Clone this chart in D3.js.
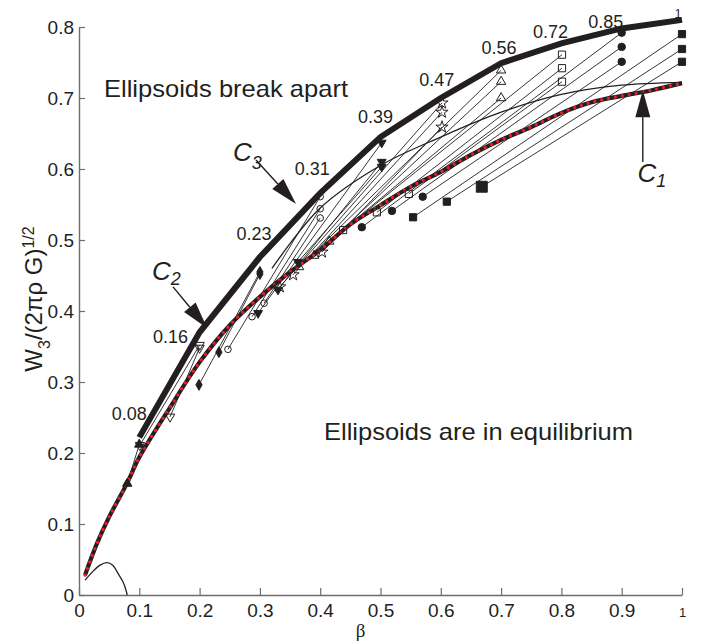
<!DOCTYPE html>
<html>
<head>
<meta charset="utf-8">
<script src="https://cdn.jsdelivr.net/npm/d3@7"></script>
<style>
    body { margin: 0; background: #fff; }
    #chart { width: 703px; height: 644px; }
    text { font-family: "Liberation Sans", Arial, Helvetica, sans-serif; fill: #231f20; }
</style>
</head>
<body>
<div id="chart"></div>
<script>
// Curve C1 (lower limit, drawn thick black with red dots)
const c1Beta = [0.01, 0.03, 0.05, 0.08, 0.1, 0.15, 0.2, 0.25, 0.3, 0.35, 0.4, 0.45, 0.5, 0.55, 0.6, 0.65, 0.7, 0.75, 0.8, 0.85, 0.9, 0.95, 1.0];
const c1W = [0.028, 0.073, 0.11, 0.158, 0.194, 0.263, 0.328, 0.38, 0.42, 0.455, 0.486, 0.522, 0.549, 0.575, 0.596, 0.62, 0.641, 0.659, 0.679, 0.694, 0.703, 0.711, 0.721];

// Curve C3 (upper limit) and the value written at each vertex
const c3Beta = [0.1, 0.2, 0.3, 0.4, 0.5, 0.6, 0.7, 0.8, 0.9, 1.0];
const c3W = [0.222, 0.37, 0.476, 0.566, 0.645, 0.70, 0.749, 0.777, 0.798, 0.81];
const c3Labels = ['0.08', '0.16', '0.23', '0.31', '0.39', '0.47', '0.56', '0.72', '0.85', '1'];

// Small curve near the origin
const bumpBeta = [0.01, 0.024, 0.035, 0.046, 0.056, 0.065, 0.072, 0.076, 0.08];
const bumpW = [0.021, 0.034, 0.042, 0.0455, 0.042, 0.03, 0.02, 0.012, 0];

// Long thin curve ending on C1 at beta = 1
const longBeta = [0.32, 0.4, 0.5, 0.6, 0.7, 0.8, 0.9, 1.0];
const longW = [0.46, 0.545, 0.605, 0.645, 0.68, 0.705, 0.718, 0.722];

// Tracks: [group, beta start, W start, beta end, W end]
const tracks = [
    [0, 0.08, 0.157, 0.1, 0.212],
    [1, 0.101, 0.211, 0.2, 0.352],
    [1, 0.151, 0.251, 0.2, 0.348],
    [2, 0.199, 0.296, 0.3, 0.455],
    [2, 0.232, 0.342, 0.3, 0.452],
    [3, 0.247, 0.346, 0.4, 0.561],
    [3, 0.287, 0.392, 0.4, 0.544],
    [3, 0.307, 0.411, 0.4, 0.531],
    [4, 0.297, 0.397, 0.502, 0.637],
    [4, 0.33, 0.43, 0.502, 0.61],
    [4, 0.363, 0.469, 0.502, 0.603],
    [5, 0.333, 0.434, 0.602, 0.693],
    [5, 0.355, 0.451, 0.602, 0.68],
    [5, 0.403, 0.483, 0.602, 0.659],
    [6, 0.365, 0.462, 0.7, 0.739],
    [6, 0.39, 0.478, 0.7, 0.723],
    [6, 0.415, 0.498, 0.7, 0.70],
    [7, 0.438, 0.514, 0.801, 0.761],
    [7, 0.494, 0.539, 0.801, 0.742],
    [7, 0.547, 0.565, 0.801, 0.723],
    [8, 0.469, 0.518, 0.9, 0.792],
    [8, 0.519, 0.541, 0.9, 0.772],
    [8, 0.570, 0.561, 0.9, 0.751],
    [9, 0.554, 0.532, 1.0, 0.790],
    [9, 0.610, 0.554, 1.0, 0.769],
    [9, 0.668, 0.575, 1.0, 0.751]
];
const largeMarker = [0.668, 0.575];

// Axis ticks
const xTicks = [0, 0.1, 0.2, 0.3, 0.4, 0.5, 0.6, 0.7, 0.8, 0.9, 1];
const xTickLabels = ['0', '0.1', '0.2', '0.3', '0.4', '0.5', '0.6', '0.7', '0.8', '0.9', '1'];
const yTicks = [0, 0.1, 0.2, 0.3, 0.4, 0.5, 0.6, 0.7, 0.8];
const yTickLabels = ['0', '0.1', '0.2', '0.3', '0.4', '0.5', '0.6', '0.7', '0.8'];

class EllipsoidChart {
    constructor(containerId) {
        this.container = d3.select(`#${containerId}`);
        this.dimensions = {
            width: 703,
            height: 644,
            margin: { top: 27, right: 21, bottom: 49, left: 79 }
        };
    }

    render() {
        const { width, height, margin } = this.dimensions;
        const innerWidth = width - margin.left - margin.right;
        const innerHeight = height - margin.top - margin.bottom;
        const ink = '#231f20';

        const svg = this.container.append('svg')
            .attr('width', width)
            .attr('height', height);

        const g = svg.append('g')
            .attr('transform', `translate(${margin.left},${margin.top})`);

        // Scales
        const x = d3.scaleLinear().domain([0, 1]).range([0, innerWidth]);
        const y = d3.scaleLinear().domain([0, 0.8]).range([innerHeight, 0]);

        // Axes (ticks point inward)
        const xAxis = g.append('g')
            .attr('transform', `translate(0,${innerHeight})`)
            .call(d3.axisBottom(x).tickValues(xTicks)
                .tickFormat((d, i) => xTickLabels[i])
                .tickSize(-7).tickSizeOuter(0).tickPadding(7));
        xAxis.selectAll('text')
            .attr('y', 22).attr('dy', '0')
            .style('font-size', (d, i) => i === xTicks.length - 1 ? '13px' : '19px');

        const yAxis = g.append('g')
            .call(d3.axisLeft(y).tickValues(yTicks)
                .tickFormat((d, i) => yTickLabels[i])
                .tickSize(-6).tickSizeOuter(0).tickPadding(5));
        yAxis.selectAll('text').style('font-size', '19px');

        [xAxis, yAxis].forEach(a => {
            a.select('.domain').attr('stroke', '#6d6e71').attr('stroke-width', 1.4);
            a.selectAll('.tick line').attr('stroke', '#6d6e71').attr('stroke-width', 1.2);
            a.selectAll('text').style('fill', ink).attr('font-family', '"Liberation Sans", Arial, sans-serif');
        });

        // Axis labels
        const yLabel = g.append('text')
            .attr('transform', `translate(${42 - margin.left},${299 - margin.top}) rotate(-90)`)
            .attr('text-anchor', 'middle')
            .style('font-size', '24px');
        yLabel.append('tspan').text('W');
        yLabel.append('tspan').attr('dy', 8).style('font-size', '16px').text('3');
        yLabel.append('tspan').attr('dy', -8).text('/(2πρ G)');
        yLabel.append('tspan').attr('dy', -8).style('font-size', '16px').text('1/2');

        g.append('text')
            .attr('x', innerWidth / 2 - 20)
            .attr('y', innerHeight + 42)
            .attr('text-anchor', 'middle')
            .style('font-family', '"Liberation Serif", "Times New Roman", serif')
            .style('font-size', '19px')
            .text('β');

        const line = d3.line()
            .x(d => x(d[0]))
            .y(d => y(d[1]));
        const smooth = d3.line()
            .x(d => x(d[0]))
            .y(d => y(d[1]))
            .curve(d3.curveCatmullRom.alpha(0.5));

        const c1 = c1Beta.map((b, i) => [b, c1W[i]]);
        const c3 = c3Beta.map((b, i) => [b, c3W[i]]);

        // Thin tracks
        g.selectAll('.track')
            .data(tracks)
            .enter()
            .append('line')
            .attr('class', 'track')
            .attr('x1', d => x(d[1]))
            .attr('y1', d => y(d[2]))
            .attr('x2', d => x(d[3]))
            .attr('y2', d => y(d[4]))
            .attr('stroke', ink)
            .attr('stroke-width', 0.9);

        g.append('path')
            .attr('d', smooth(longBeta.map((b, i) => [b, longW[i]])))
            .attr('fill', 'none')
            .attr('stroke', ink)
            .attr('stroke-width', 1.3);

        // C1: thick black with red dots
        g.append('path')
            .attr('d', smooth(c1))
            .attr('fill', 'none')
            .attr('stroke', ink)
            .attr('stroke-width', 4.2);
        g.append('path')
            .attr('d', smooth(c1))
            .attr('fill', 'none')
            .attr('stroke', '#ed1c24')
            .attr('stroke-width', 3.2)
            .attr('stroke-linecap', 'round')
            .attr('stroke-dasharray', '0.01 7');

        // Small curve at origin
        g.append('path')
            .attr('d', smooth(bumpBeta.map((b, i) => [b, bumpW[i]])))
            .attr('fill', 'none')
            .attr('stroke', ink)
            .attr('stroke-width', 1.3);

        // Markers for each group
        const symbolOf = [
            { type: d3.symbolTriangle, fill: true, rot: 0, size: 38 },
            { type: d3.symbolTriangle, fill: false, rot: 180, size: 38 },
            { type: d3.symbolDiamond, fill: true, rot: 0, size: 34 },
            { type: d3.symbolCircle, fill: false, rot: 0, size: 34 },
            { type: d3.symbolTriangle, fill: true, rot: 180, size: 34 },
            { type: d3.symbolStar, fill: false, rot: 0, size: 46 },
            { type: d3.symbolTriangle, fill: false, rot: 0, size: 38 },
            { type: d3.symbolSquare, fill: false, rot: 0, size: 52 },
            { type: d3.symbolCircle, fill: true, rot: 0, size: 44 },
            { type: d3.symbolSquare, fill: true, rot: 0, size: 52 }
        ];
        const markers = [];
        tracks.forEach(t => {
            markers.push([t[0], t[1], t[2]]);
            markers.push([t[0], t[3], t[4]]);
        });
        g.selectAll('.marker')
            .data(markers)
            .enter()
            .append('path')
            .attr('class', 'marker')
            .attr('d', d => {
                const s = symbolOf[d[0]];
                const big = d[1] === largeMarker[0] && d[2] === largeMarker[1];
                return d3.symbol().type(s.type).size(big ? 120 : s.size)();
            })
            .attr('transform', d => `translate(${x(d[1])},${y(d[2])}) rotate(${symbolOf[d[0]].rot})`)
            .attr('fill', d => symbolOf[d[0]].fill ? ink : '#fff')
            .attr('fill-opacity', d => symbolOf[d[0]].fill ? 1 : 0)
            .attr('stroke', ink)
            .attr('stroke-width', 1);

        // C3: thick upper polyline
        g.append('path')
            .attr('d', line(c3))
            .attr('fill', 'none')
            .attr('stroke', ink)
            .attr('stroke-width', 6)
            .attr('stroke-linejoin', 'miter');

        // Vertex labels along C3
        const labelOffsets = [[-10, -17], [-29, 11], [-6, -17], [-8, -18], [-5, -14],
            [-4, -12], [-2, -9], [-11, -5], [-16, 0], [-4, -2]];
        g.selectAll('.vlabel')
            .data(c3)
            .enter()
            .append('text')
            .attr('class', 'vlabel')
            .attr('x', (d, i) => x(d[0]) + labelOffsets[i][0])
            .attr('y', (d, i) => y(d[1]) + labelOffsets[i][1])
            .attr('text-anchor', 'middle')
            .style('font-size', (d, i) => i === c3.length - 1 ? '12px' : '18px')
            .text((d, i) => c3Labels[i]);

        // Region captions
        g.append('text')
            .attr('x', 104 - margin.left).attr('y', 97 - margin.top)
            .attr('textLength', 244).attr('lengthAdjust', 'spacingAndGlyphs')
            .style('font-size', '24px')
            .text('Ellipsoids break apart');
        g.append('text')
            .attr('x', 324 - margin.left).attr('y', 440 - margin.top)
            .attr('textLength', 309).attr('lengthAdjust', 'spacingAndGlyphs')
            .style('font-size', '24px')
            .text('Ellipsoids are in equilibrium');

        // Curve names with arrows
        const arrow = (b0, w0, b1, w1) => {
            const x0 = x(b0), y0 = y(w0), x1 = x(b1), y1 = y(w1);
            const len = Math.hypot(x1 - x0, y1 - y0);
            const ux = (x1 - x0) / len, uy = (y1 - y0) / len;
            const hl = 27, hw = 7.5;
            const bx = x1 - ux * hl, by = y1 - uy * hl;
            g.append('line')
                .attr('x1', x0).attr('y1', y0).attr('x2', bx).attr('y2', by)
                .attr('stroke', ink).attr('stroke-width', 1.4);
            g.append('path')
                .attr('d', `M${x1},${y1}L${bx - uy * hw},${by + ux * hw}L${bx + uy * hw},${by - ux * hw}Z`)
                .attr('fill', ink);
        };
        arrow(0.2935, 0.6127, 0.3599, 0.5507);
        arrow(0.156, 0.434, 0.2123, 0.376);
        arrow(0.935, 0.61, 0.935, 0.711);

        const curveNames = [
            { b: 0.2555, w: 0.611, sub: '3', dy: 8 },
            { b: 0.121, w: 0.4437, sub: '2', dy: 5 },
            { b: 0.926, w: 0.5817, sub: '1', dy: 5 }
        ];
        curveNames.forEach(c => {
            const t = g.append('text')
                .attr('x', x(c.b)).attr('y', y(c.w))
                .style('font-style', 'italic')
                .style('font-size', '26px');
            t.append('tspan').text('C');
            t.append('tspan').attr('dy', c.dy).style('font-size', '18px').text(c.sub);
        });
    }
}

const chart = new EllipsoidChart('chart');
chart.render();
</script>
</body>
</html>
